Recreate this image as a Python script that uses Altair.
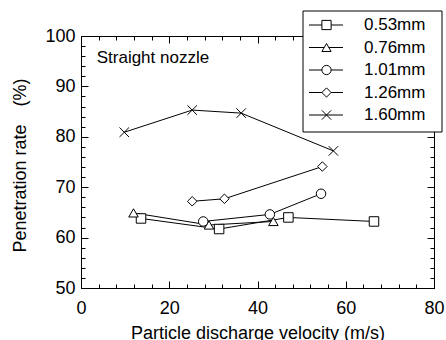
import altair as alt
import pandas as pd

# ---------------- data ----------------
series = ["0.53mm", "0.76mm", "1.01mm", "1.26mm", "1.60mm"]
vel_053 = [13.6, 31.3, 47.0, 66.4]
pen_053 = [63.8, 61.7, 64.0, 63.2]
vel_076 = [11.9, 29.0, 43.6]
pen_076 = [64.9, 62.5, 63.2]
vel_101 = [27.7, 42.8, 54.4]
pen_101 = [63.2, 64.6, 68.7]
vel_126 = [25.2, 32.5, 54.7]
pen_126 = [67.2, 67.7, 74.1]
vel_160 = [9.8, 25.2, 36.3, 57.2]
pen_160 = [80.9, 85.3, 84.7, 77.2]

x_major = [0, 20, 40, 60, 80]
x_minor = list(range(0, 81, 4))
y_major = [50, 60, 70, 80, 90, 100]
y_minor = list(range(50, 101, 2))

annotation = "Straight nozzle"
x_title = "Particle discharge velocity (m/s)"
y_title = "Penetration rate\u3000(%)"

FONT = "Liberation Sans"

rows = []
for name, xs, ys in zip(series,
                        [vel_053, vel_076, vel_101, vel_126, vel_160],
                        [pen_053, pen_076, pen_101, pen_126, pen_160]):
    for v, p in zip(xs, ys):
        rows.append({"series": name, "velocity": v, "penetration": p})
df = pd.DataFrame(rows)
legend_df = pd.DataFrame({"series": series})

plot_shapes = ["square", "triangle-up", "circle", "diamond",
               "M-1,-1L1,1M-1,1L1,-1"]
shape_scale = alt.Scale(domain=series, range=plot_shapes)

xscale = alt.Scale(domain=[0, 80], nice=False, zero=False)
yscale = alt.Scale(domain=[50, 100], nice=False, zero=False)
# legend rows (pixel rows relative to the plot's top edge)
legend_y = alt.Y("series:N", axis=None,
                 scale=alt.Scale(type="point", domain=series, range=[-11, 79],
                                 padding=0))


def tick_axis(orient, values, size):
    return alt.Axis(orient=orient, values=values, ticks=True, tickSize=size,
                    offset=-size, labels=False, domain=False, grid=False,
                    title=None, tickColor="black", tickWidth=1)


base = alt.Chart(df)

lines = base.mark_line(color="black", strokeWidth=1).encode(
    x=alt.X("velocity:Q", scale=xscale,
            axis=alt.Axis(orient="bottom", values=x_major, ticks=False, tickSize=0,
                          domain=False, grid=False, labelFlush=False,
                          labelFont=FONT, labelFontSize=18, labelColor="black",
                          labelPadding=11, title=x_title, titleFont=FONT,
                          titleFontSize=18, titleFontWeight="normal",
                          titleColor="black", titleY=50,
                          titleBaseline="alphabetic")),
    y=alt.Y("penetration:Q", scale=yscale,
            axis=alt.Axis(orient="left", values=y_major, ticks=False, tickSize=0,
                          domain=False, grid=False, labelFlush=False,
                          labelFont=FONT, labelFontSize=18, labelColor="black",
                          labelPadding=6, title=y_title, titleFont=FONT,
                          titleFontSize=18, titleFontWeight="normal",
                          titleColor="black", titleX=-56, titleY=129,
                          titleBaseline="alphabetic")),
    detail="series:N",
)

points = base.mark_point(filled=True, fill="white", stroke="black",
                         strokeWidth=1, opacity=1, size=90).encode(
    x=alt.X("velocity:Q", scale=xscale, axis=tick_axis("bottom", x_major, 7)),
    y=alt.Y("penetration:Q", scale=yscale, axis=tick_axis("left", y_major, 7)),
    shape=alt.Shape("series:N", scale=shape_scale, legend=None),
)

ticks_a = base.mark_point(opacity=0, size=0).encode(
    x=alt.X("velocity:Q", scale=xscale, axis=tick_axis("bottom", x_minor, 4)),
    y=alt.Y("penetration:Q", scale=yscale, axis=tick_axis("left", y_minor, 4)),
)
ticks_b = base.mark_point(opacity=0, size=0).encode(
    x=alt.X("velocity:Q", scale=xscale, axis=tick_axis("top", x_major, 7)),
    y=alt.Y("penetration:Q", scale=yscale, axis=tick_axis("right", y_major, 7)),
)
ticks_c = base.mark_point(opacity=0, size=0).encode(
    x=alt.X("velocity:Q", scale=xscale, axis=tick_axis("top", x_minor, 4)),
    y=alt.Y("penetration:Q", scale=yscale, axis=tick_axis("right", y_minor, 4)),
)

# ---------------- legend ----------------
leg_box = alt.Chart(pd.DataFrame({"k": [0]})).mark_rect(
    fill="white", stroke="black", strokeWidth=1
).encode(x=alt.value(222), x2=alt.value(361), y=alt.value(-25), y2=alt.value(96))

leg_lines = alt.Chart(legend_df).mark_rule(color="black", strokeWidth=1).encode(
    x=alt.value(228), x2=alt.value(262), y=legend_y)

leg_points = alt.Chart(legend_df).mark_point(
    filled=True, fill="white", stroke="black", strokeWidth=1, opacity=1, size=85
).encode(x=alt.value(245.5), y=legend_y,
         shape=alt.Shape("series:N", scale=shape_scale, legend=None))

leg_text = alt.Chart(legend_df).mark_text(
    align="left", baseline="middle", font=FONT, fontSize=17, color="black"
).encode(x=alt.value(283), y=legend_y, text="series:N")

text = alt.Chart(pd.DataFrame({"label": [annotation]})).mark_text(
    align="left", baseline="alphabetic", font=FONT, fontSize=17, color="black"
).encode(text="label:N", x=alt.value(15.7), y=alt.value(26.7))

chart = alt.layer(
    lines, points, ticks_a, ticks_b, ticks_c, text,
    leg_box, leg_lines, leg_points, leg_text
).resolve_scale(
    y="independent"
).resolve_axis(
    x="independent", y="independent"
).properties(
    width=353, height=252,
    autosize=alt.AutoSizeParams(type="none"),
    padding={"left": 81, "top": 36, "right": 12, "bottom": 52},
    background="white",
).configure_view(stroke="black", strokeWidth=1)

chart.save("out.html", embed_options={"renderer": "svg", "actions": False})
